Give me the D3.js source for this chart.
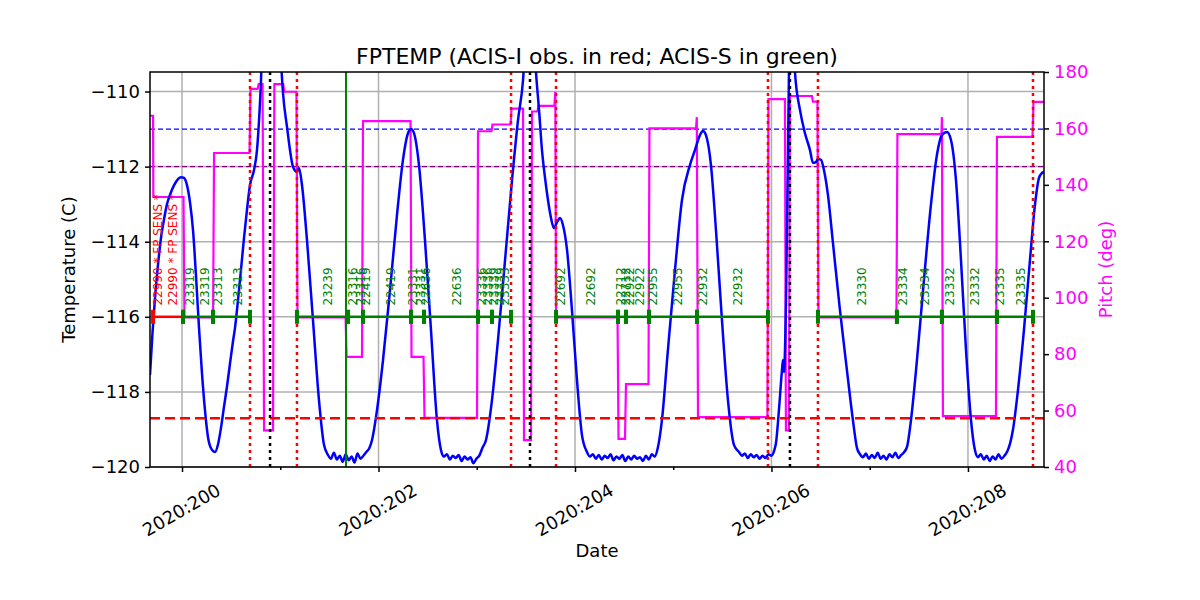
<!DOCTYPE html>
<meta charset="utf-8">
<style>
    body { margin: 0; background: #fff; }
    text { font-family: "DejaVu Sans", sans-serif; }
</style>
<body>

<script src="https://d3js.org/d3.v7.min.js"></script>
<script>
    // time is 2020 day-of-year (fractional)
    var tempData = [
        [199.674,-117.55],[199.700,-116.4],[199.725,-115.5],[199.756,-114.6],[199.786,-113.9],[199.817,-113.4],
        [199.847,-113.0],[199.878,-112.75],[199.918,-112.5],[199.959,-112.33],[199.990,-112.28],[200.020,-112.30],
        [200.051,-112.5],[200.081,-112.95],[200.112,-113.7],[200.142,-114.9],[200.173,-116.3],[200.203,-117.5],
        [200.234,-118.5],[200.264,-119.2],[200.295,-119.5],[200.336,-119.60],[200.366,-119.40],[200.397,-118.95],
        [200.427,-118.40],[200.458,-117.85],[200.488,-117.25],[200.519,-116.65],[200.539,-116.30],[200.570,-115.55],
        [200.600,-114.75],[200.631,-113.90],[200.661,-113.15],[200.692,-112.49],[200.733,-112.09],[200.763,-111.56],
        [200.784,-110.76],[200.804,-109.70],[200.830,-107.5],[200.870,-106.0],[200.967,-106.5],[201.008,-109.2],
        [201.028,-110.04],[201.069,-110.95],[201.099,-111.56],[201.130,-112.01],[201.170,-112.14],[201.191,-112.04],
        [201.221,-112.49],[201.272,-113.96],[201.333,-116.09],[201.394,-118.22],[201.445,-119.41],
        [201.486,-119.68],[201.516,-119.78],[201.546,-119.62],[201.576,-119.80],[201.606,-119.70],[201.636,-119.86],
        [201.666,-119.66],[201.696,-119.82],[201.726,-119.72],[201.756,-119.88],[201.786,-119.64],[201.816,-119.78],
        [201.846,-119.70],[201.876,-119.60],[201.906,-119.50],
        [201.934,-119.28],[201.985,-118.48],[202.046,-117.15],[202.117,-115.29],[202.188,-113.29],[202.249,-111.82],
        [202.300,-111.11],[202.331,-111.00],[202.361,-111.11],[202.412,-111.96],[202.473,-113.96],[202.534,-116.35],
        [202.595,-118.75],
        [202.636,-119.55],[202.666,-119.72],[202.696,-119.66],[202.726,-119.80],[202.756,-119.70],[202.786,-119.76],
        [202.816,-119.68],[202.846,-119.84],[202.876,-119.72],[202.906,-119.80],[202.936,-119.74],[202.966,-119.90],
        [202.996,-119.78],[203.026,-119.70],[203.056,-119.50],
        [203.094,-119.28],[203.155,-118.22],[203.216,-116.62],[203.288,-114.49],[203.359,-112.36],[203.420,-110.76],
        [203.471,-109.70],[203.542,-106.0],[203.603,-109.48],[203.634,-110.49],[203.664,-111.56],[203.695,-112.30],
        [203.725,-112.89],[203.756,-113.37],[203.786,-113.64],[203.817,-113.48],[203.847,-113.37],[203.878,-113.56],
        [203.919,-114.22],[203.969,-115.82],[204.020,-117.68],[204.071,-119.15],
        [204.122,-119.60],[204.152,-119.72],[204.182,-119.66],[204.212,-119.78],[204.242,-119.68],[204.272,-119.80],
        [204.302,-119.70],[204.332,-119.76],[204.362,-119.66],[204.392,-119.82],[204.422,-119.72],[204.452,-119.78],
        [204.482,-119.68],[204.512,-119.84],[204.542,-119.72],[204.572,-119.80],[204.602,-119.70],[204.632,-119.78],
        [204.662,-119.74],[204.692,-119.84],[204.722,-119.70],[204.752,-119.80],[204.782,-119.66],[204.812,-119.72],
        [204.842,-119.50],
        [204.885,-118.75],[204.946,-116.88],[205.018,-114.75],[205.089,-112.89],[205.170,-111.96],[205.221,-111.56],
        [205.272,-111.16],[205.303,-111.05],[205.333,-111.16],[205.384,-111.96],[205.435,-113.69],[205.496,-116.09],
        [205.557,-118.22],[205.618,-119.41],
        [205.669,-119.60],[205.699,-119.70],[205.729,-119.64],[205.759,-119.76],[205.789,-119.66],[205.819,-119.74],
        [205.849,-119.68],[205.879,-119.78],[205.909,-119.70],[205.939,-119.76],[205.969,-119.66],[205.999,-119.70],
        [206.029,-119.55],
        [206.046,-119.36],[206.076,-118.48],[206.107,-117.42],[206.117,-117.15],[206.127,-117.47],[206.148,-115.55],
        [206.168,-111.56],[206.178,-109.48],[206.209,-105.0],[206.239,-109.48],[206.290,-110.49],[206.341,-111.11],
        [206.392,-111.56],[206.422,-111.90],[206.453,-111.88],[206.473,-111.80],[206.504,-111.82],[206.534,-112.09],
        [206.575,-112.76],[206.626,-114.04],[206.697,-115.82],[206.768,-117.42],[206.829,-118.75],[206.870,-119.49],
        [206.901,-119.66],[206.931,-119.74],[206.961,-119.64],[206.991,-119.78],[207.021,-119.68],[207.051,-119.76],
        [207.081,-119.62],[207.111,-119.78],[207.141,-119.70],[207.171,-119.80],[207.201,-119.66],[207.231,-119.74],
        [207.261,-119.62],[207.291,-119.76],[207.321,-119.68],[207.351,-119.60],[207.381,-119.45],
        [207.420,-118.75],[207.481,-117.15],[207.552,-115.02],[207.623,-113.02],[207.684,-111.69],[207.735,-111.16],
        [207.786,-111.08],[207.827,-111.29],[207.878,-112.36],[207.929,-114.49],[207.980,-116.88],[208.031,-118.75],
        [208.071,-119.55],[208.101,-119.74],[208.131,-119.66],[208.161,-119.80],[208.191,-119.70],[208.221,-119.84],
        [208.251,-119.72],[208.281,-119.80],[208.311,-119.66],[208.341,-119.78],[208.371,-119.70],[208.401,-119.58],
        [208.431,-119.35],
        [208.458,-119.01],[208.509,-117.95],[208.570,-116.35],[208.631,-114.49],[208.682,-113.02],[208.723,-112.30],
        [208.753,-112.17],[208.774,-112.14]
    ];

    var pitchData = [
        [199.674,164.5],[199.705,164.5],[199.708,135.7],[200.015,135.7],[200.025,93],[200.316,93],[200.326,151.3],
        [200.687,151.3],[200.697,174],[200.770,174],[200.780,175.7],[200.820,175.7],[200.835,53],[200.926,53],
        [200.940,175.7],[201.030,175.7],[201.040,173],[201.165,173],[201.175,93],[201.665,93],[201.675,79],
        [201.832,79],[201.842,162.6],[202.326,162.6],[202.336,79],[202.458,79],[202.468,57.4],[203.003,57.4],
        [203.013,159],[203.150,159],[203.160,161.4],[203.344,161.4],[203.354,167],[203.471,167],[203.481,49.5],
        [203.552,49.5],[203.562,166],[203.618,166],[203.628,168],[203.790,168],[203.800,173],[203.807,93],
        [204.433,93],[204.443,50],[204.509,50],[204.519,69.4],[204.748,69.4],[204.758,160],[205.232,160],
        [205.240,164],[205.252,57.7],[205.959,57.7],[205.969,170.4],[206.137,170.4],[206.147,53],[206.178,53],
        [206.188,171.5],[206.412,171.5],[206.422,169.5],[206.468,169.5],[206.478,93],[207.272,93],[207.282,158],
        [207.730,158],[207.735,164],[207.745,58],[208.285,58],[208.295,157],[208.657,157],[208.667,169.4],
        [208.774,169.4]
    ];

    // [obsid, start, stop, instrument]
    var obsList = [
        ["22990",199.705,200.010,"I"],["23319",200.010,200.316,"S"],["23313",200.316,200.692,"S"],
        ["23239",201.170,201.690,"S"],["23316",201.690,201.842,"S"],["22419",201.842,202.331,"S"],
        ["23331",202.331,202.463,"S"],["22636",202.463,203.013,"S"],["23336",203.013,203.155,"S"],
        ["23339",203.155,203.349,"S"],["22692",203.807,204.438,"S"],["22712",204.438,204.519,"S"],
        ["22922",204.519,204.753,"S"],["22955",204.753,205.242,"S"],["22932",205.242,205.964,"S"],
        ["23330",206.473,207.277,"S"],["23334",207.277,207.735,"S"],["23332",207.735,208.295,"S"],
        ["23335",208.295,208.662,"S"]
    ];

    // [text, time, instrument]
    var obsLabels = [
        ["22990 * FP SENS *",199.756,"I"],["22990 * FP SENS *",199.908,"I"],
        ["23319",200.081,"S"],["23319",200.234,"S"],["23313",200.366,"S"],["23313",200.570,"S"],
        ["23239",201.486,"S"],["23316",201.740,"S"],["23316",201.822,"S"],["22419",201.873,"S"],
        ["22419",202.127,"S"],["23331",202.351,"S"],["23331",202.433,"S"],["22636",202.483,"S"],
        ["22636",202.799,"S"],["23336",203.053,"S"],["23336",203.114,"S"],["23339",203.176,"S"],
        ["23339",203.237,"S"],["23333",203.288,"S"],["22692",203.858,"S"],["22692",204.163,"S"],
        ["22712",204.468,"S"],["22712",204.519,"S"],["22922",204.560,"S"],["22922",204.662,"S"],
        ["22955",204.794,"S"],["22955",205.049,"S"],["22932",205.303,"S"],["22932",205.659,"S"],
        ["23330",206.921,"S"],["23334",207.338,"S"],["23334",207.562,"S"],["23332",207.817,"S"],
        ["23332",208.071,"S"],["23335",208.326,"S"],["23335",208.539,"S"]
    ];

    var radzoneTimes = [200.692, 201.170, 203.349, 203.807, 205.964, 206.473, 208.662];
    var perigeeTimes = [200.896, 203.542, 206.188];
    var safeTimes = [201.669];

    var planLimit = -111.0, cautionLimit = -112.0, acisILimit = -118.7, obsLevel = -116.0, labelLevel = -115.7;

    var xMajor = [200, 202, 204, 206, 208];
    var xMinor = [201, 203, 205, 207];
    var tempTicks = [-120, -118, -116, -114, -112, -110];
    var pitchTicks = [40, 60, 80, 100, 120, 140, 160, 180];

    var margin = {top: 72, right: 156, bottom: 133, left: 150},
        width = 1200 - margin.left - margin.right,
        height = 600 - margin.top - margin.bottom;

    var root = d3.select("body").append("svg")
        .attr("width", 1200)
        .attr("height", 600);

    var svg = root.append("g")
        .attr("transform", "translate(" + margin.left + "," + margin.top + ")");

    var x = d3.scaleLinear().domain([199.674, 208.774]).range([0, width]);
    var y = d3.scaleLinear().domain([-120, -109.48]).range([height, 0]);
    var yp = d3.scaleLinear().domain([40, 180]).range([height, 0]);

    svg.append("clipPath").attr("id", "plotclip")
      .append("rect").attr("width", width).attr("height", height);

    // grid
    var grid = svg.append("g").attr("stroke", "#b0b0b0").attr("stroke-width", 1.5);
    xMajor.forEach(d => grid.append("line").attr("x1", x(d)).attr("x2", x(d)).attr("y1", 0).attr("y2", height));
    tempTicks.forEach(d => grid.append("line").attr("x1", 0).attr("x2", width).attr("y1", y(d)).attr("y2", y(d)));

    var plot = svg.append("g").attr("clip-path", "url(#plotclip)");

    // limit lines
    plot.append("line").attr("x1", 0).attr("x2", width).attr("y1", y(planLimit)).attr("y2", y(planLimit))
        .attr("stroke", "#0000ff").attr("stroke-width", 1.2).attr("stroke-dasharray", "5,3");
    plot.append("line").attr("x1", 0).attr("x2", width).attr("y1", y(cautionLimit)).attr("y2", y(cautionLimit))
        .attr("stroke", "purple").attr("stroke-width", 1.2).attr("stroke-dasharray", "5,3");

    // pitch
    plot.append("path").datum(pitchData)
        .attr("fill", "none").attr("stroke", "#ff00ff").attr("stroke-width", 2.2)
        .attr("d", d3.line().x(d => x(d[0])).y(d => yp(d[1])));

    // temperature
    plot.append("path").datum(tempData)
        .attr("fill", "none").attr("stroke", "#0000ff").attr("stroke-width", 2.5)
        .attr("stroke-linejoin", "round")
        .attr("d", d3.line().curve(d3.curveMonotoneX).x(d => x(d[0])).y(d => y(d[1])));

    plot.append("line").attr("x1", 0).attr("x2", width).attr("y1", y(acisILimit)).attr("y2", y(acisILimit))
        .attr("stroke", "red").attr("stroke-width", 2.5).attr("stroke-dasharray", "10,5");

    // vertical markers
    radzoneTimes.forEach(t => plot.append("line").attr("x1", x(t)).attr("x2", x(t)).attr("y1", 0).attr("y2", height)
        .attr("stroke", "red").attr("stroke-width", 2.5).attr("stroke-dasharray", "3,4"));
    perigeeTimes.forEach(t => plot.append("line").attr("x1", x(t)).attr("x2", x(t)).attr("y1", 0).attr("y2", height)
        .attr("stroke", "black").attr("stroke-width", 2.5).attr("stroke-dasharray", "3,4"));
    safeTimes.forEach(t => plot.append("line").attr("x1", x(t)).attr("x2", x(t)).attr("y1", 0).attr("y2", height)
        .attr("stroke", "green").attr("stroke-width", 2));

    // observations
    var obsColor = d => d === "I" ? "red" : "green";
    obsList.forEach(o => {
        plot.append("line").attr("x1", x(o[1])).attr("x2", x(o[2])).attr("y1", y(obsLevel)).attr("y2", y(obsLevel))
            .attr("stroke", obsColor(o[3])).attr("stroke-width", 2.5);
    });
    obsList.forEach(o => {
        [o[1], o[2]].forEach(t => {
            plot.append("rect").attr("x", x(t) - 2).attr("y", y(obsLevel) - 7)
                .attr("width", 4).attr("height", 14).attr("fill", obsColor(o[3]));
        });
    });

    plot.selectAll(".obslabel").data(obsLabels).enter().append("text")
        .attr("class", "obslabel")
        .attr("transform", d => "translate(" + x(d[1]) + "," + y(labelLevel) + ") rotate(-90)")
        .attr("dy", "0.35em")
        .attr("font-size", 12)
        .attr("fill", d => obsColor(d[2]))
        .text(d => d[0]);

    // axes
    var xAxis = svg.append("g")
        .attr("transform", "translate(0," + height + ")")
        .call(d3.axisBottom(x).tickValues(xMajor).tickFormat(d => "2020:" + d).tickSize(5).tickSizeOuter(0));
    xAxis.selectAll("text")
        .attr("y", 0).attr("dy", "0.35em")
        .attr("text-anchor", "middle")
        .attr("font-size", 18)
        .attr("transform", "translate(-1,43) rotate(-30)");
    svg.append("g")
        .attr("transform", "translate(0," + height + ")")
        .call(d3.axisBottom(x).tickValues(xMinor).tickFormat("").tickSize(3).tickSizeOuter(0));

    var yAxis = svg.append("g")
        .call(d3.axisLeft(y).tickValues(tempTicks).tickFormat(d3.format("d")).tickSize(5).tickSizeOuter(0));
    yAxis.selectAll("text").attr("font-size", 18).attr("x", -10);

    var pAxis = svg.append("g")
        .attr("transform", "translate(" + width + ",0)")
        .call(d3.axisRight(yp).tickValues(pitchTicks).tickSize(5).tickSizeOuter(0));
    pAxis.selectAll("text").attr("font-size", 18).attr("fill", "#ff00ff").attr("x", 10);

    svg.selectAll(".domain").remove();
    svg.selectAll(".tick line").attr("stroke", "black").attr("stroke-width", 1.5);

    svg.append("rect").attr("width", width).attr("height", height)
        .attr("fill", "none").attr("stroke", "black").attr("stroke-width", 1.5);

    // labels
    svg.append("text").attr("x", width / 2).attr("y", -8)
        .attr("text-anchor", "middle").attr("font-size", 22)
        .text("FPTEMP (ACIS-I obs. in red; ACIS-S in green)");
    svg.append("text").attr("x", width / 2).attr("y", height + 90)
        .attr("text-anchor", "middle").attr("font-size", 18)
        .text("Date");
    svg.append("text")
        .attr("transform", "translate(-75," + (height / 2) + ") rotate(-90)")
        .attr("text-anchor", "middle").attr("font-size", 18)
        .text("Temperature (C)");
    svg.append("text")
        .attr("transform", "translate(" + (width + 68) + "," + (height / 2) + ") rotate(-90)")
        .attr("text-anchor", "middle").attr("font-size", 18).attr("fill", "#ff00ff")
        .text("Pitch (deg)");
</script>

</body>
</html>
